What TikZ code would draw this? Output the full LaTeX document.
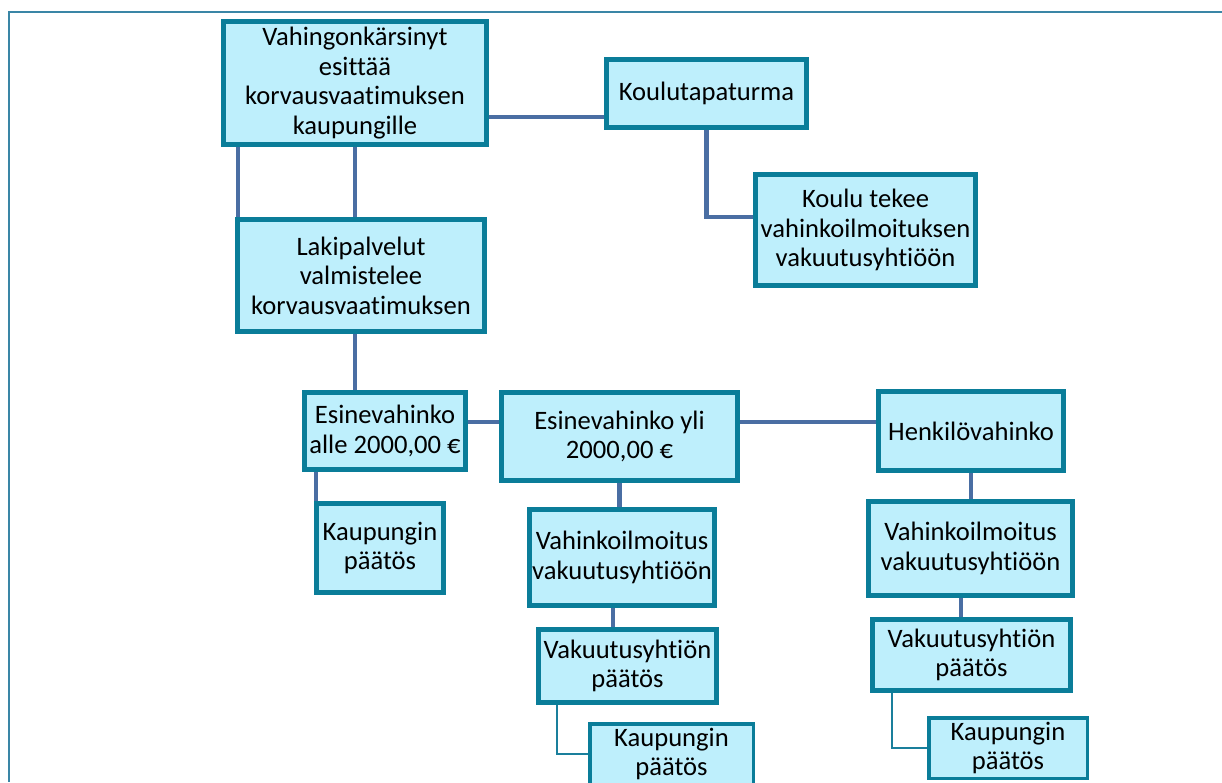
\documentclass[tikz,border=0pt]{standalone}
\usepackage{fontspec}
\setmainfont[Ligatures=NoCommon]{Carlito}
\usetikzlibrary{backgrounds}
\definecolor{boxline}{HTML}{0A7D99}
\definecolor{boxfill}{HTML}{BEEFFC}
\definecolor{conn}{HTML}{4A6EA3}
\definecolor{thinconn}{HTML}{1A7F9C}
\definecolor{framecol}{HTML}{3A86A6}
\begin{document}
\begin{tikzpicture}[x=1pt,y=-1pt,
  box/.style={draw=boxline, fill=boxfill, line width=5pt, inner sep=0pt, align=center,
    font=\fontsize{26.6}{29.5}\selectfont, text=black},
  smallbox/.style={box, line width=3.5pt},
  link/.style={draw=conn, line width=4.5pt},
  thinlink/.style={draw=thinconn, line width=2.5pt},
  frameline/.style={draw=framecol, line width=1.5pt}]
\useasboundingbox (0,0) rectangle (1222,782);
\clip (0,0) rectangle (1222,782);
\draw[frameline] (1222,12) -- (9,12) -- (9,782);

\node[box, minimum width=263pt, minimum height=123pt] (A) at (355,83) {Vahingonkärsinyt\\esittää\\korvausvaatimuksen\\kaupungille};
\node[box, minimum width=200pt, minimum height=68pt] (B) at (706.5,93.5) {Koulutapaturma};
\node[box, minimum width=220pt, minimum height=111pt] (C) at (865.5,230) {Koulu tekee\\vahinkoilmoituksen\\vakuutusyhtiöön};
\node[box, minimum width=247pt, minimum height=112pt] (D) at (361,275.5) {Lakipalvelut\\valmistelee\\korvausvaatimuksen};
\node[box, minimum width=161pt, minimum height=77pt] (E) at (385,431) {Esinevahinko\\alle 2000,00 €};
\node[box, minimum width=236pt, minimum height=88pt] (F) at (619.5,436.5) {Esinevahinko yli\\2000,00 €};
\node[box, minimum width=127pt, minimum height=89pt] (G) at (380,548) {Kaupungin\\päätös};
\node[box, minimum width=185pt, minimum height=96pt] (H) at (622,557.5) {Vahinkoilmoitus\\vakuutusyhtiöön};
\node[box, minimum width=178pt, minimum height=73pt] (I) at (627.5,666) {Vakuutusyhtiön\\päätös};
\node[smallbox, minimum width=163.5pt, minimum height=60.5pt] (J) at (671.5,754) {Kaupungin\\päätös};
\node[box, minimum width=185pt, minimum height=79pt] (K) at (971,431) {Henkilövahinko};
\node[box, minimum width=204pt, minimum height=94pt] (L) at (970.5,548.5) {Vahinkoilmoitus\\vakuutusyhtiöön};
\node[box, minimum width=198pt, minimum height=71pt] (M) at (971.5,655) {Vakuutusyhtiön\\päätös};
\node[smallbox, minimum width=158.5pt, minimum height=60.5pt] (N) at (1008,748) {Kaupungin\\päätös};

\begin{scope}[on background layer]
\draw[link] ([xshift=17pt]A.south west) -- ([xshift=17pt]A.south west |- D.north);
\draw[link] (A.south) -- (A.south |- D.north);
\draw[link] ([yshift=-34pt]A.east) -- ([yshift=-34pt]A.east -| B.west);
\draw[link] (B.south) |- ([yshift=13pt]C.west);
\draw[link] ([xshift=-6pt]D.south) -- ([xshift=-6pt]D.south |- E.north);
\draw[link] ([yshift=9pt]E.east) -- ([yshift=9pt]E.east -| F.west);
\draw[link] ([yshift=9pt]K.west) -- ([yshift=9pt]K.west -| F.east);
\draw[link] ([xshift=14pt]E.south west) -- ([xshift=14pt]E.south west |- G.north);
\draw[link] (F.south) -- (F.south |- H.north);
\draw[link] ([xshift=-9pt]H.south) -- ([xshift=-9pt]H.south |- I.north);
\draw[thinlink] ([xshift=21pt]I.south west) |- (J.west);
\draw[link] (K.south) -- (K.south |- L.north);
\draw[link] ([xshift=-9.5pt]L.south) -- ([xshift=-9.5pt]L.south |- M.north);
\draw[thinlink] ([xshift=22pt]M.south west) |- (N.west);
\end{scope}
\end{tikzpicture}
\end{document}
